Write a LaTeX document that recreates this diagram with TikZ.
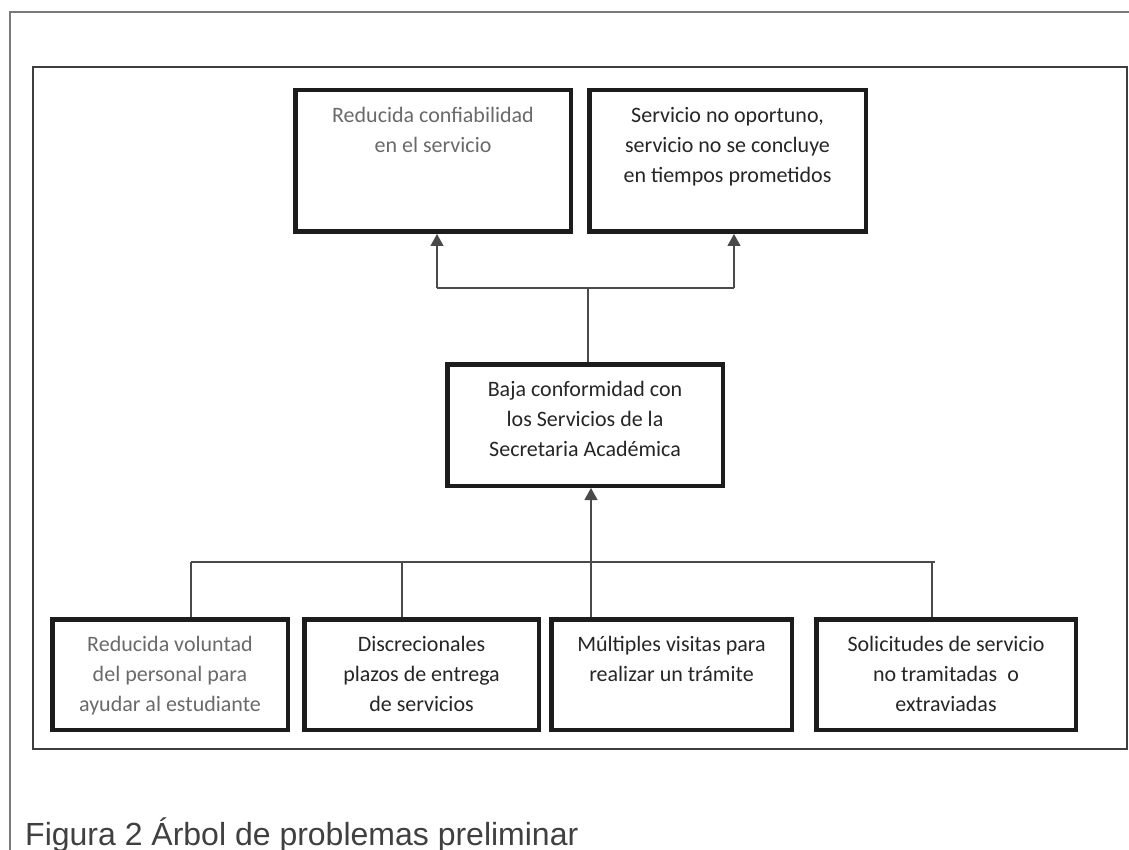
\documentclass[tikz,border=0pt]{standalone}
\usepackage{fontspec}
\setmainfont{Carlito}
\newfontfamily\capfont{Liberation Sans}
\usetikzlibrary{arrows.meta}

\definecolor{ink}{HTML}{1C1C1C}
\definecolor{txtdark}{HTML}{262626}
\definecolor{txtlight}{HTML}{6A6A6A}
\definecolor{wire}{HTML}{4A4A4A}
\definecolor{rim}{HTML}{7A7A7A}

% box body: fixed size, text hanging from the top
\newcommand\cellbody[3]{\parbox[c][#2][t]{#1}{\centering\rule{0pt}{32pt}#3}}

\begin{document}
\begin{tikzpicture}[x=1pt,y=-1pt,
  cell/.style={draw=ink,line width=4.5pt,inner sep=0pt,fill=white,
    font=\fontsize{22pt}{30pt}\selectfont},
  conn/.style={draw=wire,line width=1.2pt},
  arr/.style={conn,-{Triangle[width=13pt,length=12pt]}},
  frame/.style={draw=#1,line width=1.6pt}]
\useasboundingbox (0,0) rectangle (1129,850);

% page frame and figure frame
\draw[frame=rim] (10,850) -- (10,12) -- (1129,12);
\draw[frame=ink!85] (33,67) rectangle (1127,749);

% effects
\node[cell,text=txtlight] (T1) at (433,161)
  {\cellbody{275.5pt}{141.5pt}{Reducida confiabilidad\\en el servicio}};
\node[cell,text=txtdark] (T2) at (727.5,161)
  {\cellbody{276.5pt}{141.5pt}{Servicio no oportuno,\\servicio no se concluye\\en tiempos prometidos}};

% central problem
\node[cell,text=txtdark] (M) at (585,425)
  {\cellbody{275.5pt}{121.5pt}{Baja conformidad con\\los Servicios de la\\Secretaria Académica}};

% causes
\node[cell,text=txtlight] (B1) at (170,674.5)
  {\cellbody{235.5pt}{110.5pt}{Reducida voluntad\\del personal para\\ayudar al estudiante}};
\node[cell,text=txtdark] (B2) at (421.5,674.5)
  {\cellbody{234.5pt}{110.5pt}{Discrecionales\\plazos de entrega\\de servicios}};
\node[cell,text=txtdark] (B3) at (671.5,674.5)
  {\cellbody{240.5pt}{110.5pt}{Múltiples visitas para\\realizar un trámite}};
\node[cell,text=txtdark] (B4) at (946,674.5)
  {\cellbody{259.5pt}{110.5pt}{Solicitudes de servicio\\no tramitadas\ \ o\\extraviadas}};

% upper connector
\coordinate (ta1) at (437,288);
\coordinate (ta2) at (734,288);
\coordinate (tj) at (588,288);
\draw[conn] (ta1) -- (ta2);
\draw[arr] (ta1) -- (ta1 |- T1.south);
\draw[arr] (ta2) -- (ta2 |- T2.south);
\draw[conn] (tj) -- (tj |- M.north);

% lower connector
\coordinate (bl) at (191,562);
\coordinate (bm) at (402,562);
\coordinate (bj) at (591,562);
\coordinate (br) at (932,562);
\draw[conn] (bl) -- ([xshift=3pt]br);
\draw[arr] (bj) -- (bj |- M.south);
\draw[conn] (bl) -- (bl |- B1.north);
\draw[conn] (bm) -- (bm |- B2.north);
\draw[conn] (bj) -- (bj |- B3.north);
\draw[conn] (br) -- (br |- B4.north);

% caption
\node[anchor=base west,inner sep=0pt,text=black!75,
  font=\capfont\fontsize{32pt}{37pt}\selectfont] (cap) at (25,845)
  {Figura 2 Árbol de problemas preliminar};
\end{tikzpicture}
\end{document}
